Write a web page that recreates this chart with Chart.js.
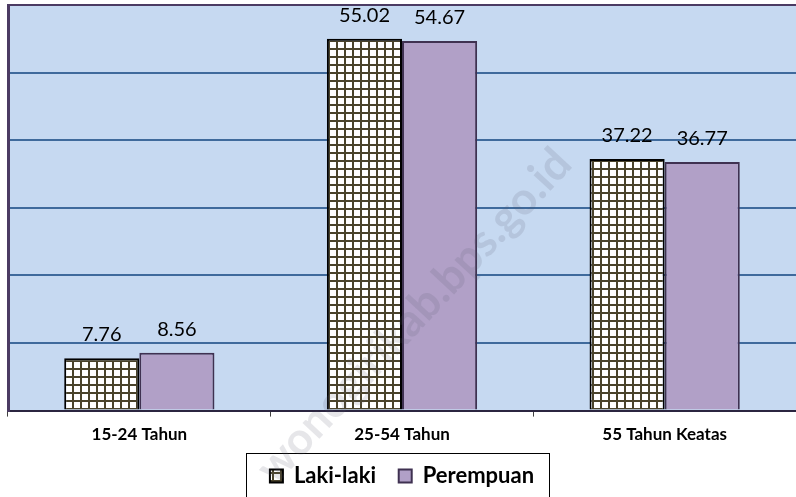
<!DOCTYPE html>
<html>
<head>
<meta charset="utf-8">
<script src="https://cdn.jsdelivr.net/npm/chart.js@4.4.0/dist/chart.umd.min.js"></script>
<style>
  html, body { margin: 0; padding: 0; background: #ffffff; }
  #wrap { width: 796px; height: 497px; position: relative; }
</style>
</head>
<body>
<div id="wrap"><canvas id="chart"></canvas></div>
<script>
// Data
const categories = ['15-24 Tahun', '25-54 Tahun', '55 Tahun Keatas'];
const lakiLaki = [7.76, 55.02, 37.22];
const perempuan = [8.56, 54.67, 36.77];
const yTicks = [0, 10, 20, 30, 40, 50, 60];

const FONT = 'Lato, "Open Sans", sans-serif';

// Checkered fill used for Laki-laki
function makeGridPattern() {
    const c = document.createElement('canvas');
    c.width = 8;
    c.height = 8;
    const g = c.getContext('2d');
    g.fillStyle = '#ffffff';
    g.fillRect(0, 0, 8, 8);
    g.fillStyle = '#4a432b';
    g.fillRect(0, 0, 2, 8);
    g.fillRect(0, 0, 8, 2);
    return g.createPattern(c, 'repeat');
}
const gridPattern = makeGridPattern();

// Plot background
const plotBackground = {
    id: 'plotBackground',
    beforeDraw(chart) {
        const { ctx, chartArea: a } = chart;
        ctx.save();
        ctx.fillStyle = '#c6d9f1';
        ctx.fillRect(a.left, a.top, a.right - a.left, a.bottom - a.top);
        ctx.restore();
    }
};

// Value labels above bars
const valueLabels = {
    id: 'valueLabels',
    afterDatasetsDraw(chart) {
        const ctx = chart.ctx;
        ctx.save();
        ctx.font = '20px ' + FONT;
        ctx.fillStyle = '#000000';
        ctx.textAlign = 'center';
        ctx.textBaseline = 'alphabetic';
        chart.data.datasets.forEach((ds, i) => {
            chart.getDatasetMeta(i).data.forEach((bar, j) => {
                ctx.fillText(ds.data[j].toFixed(2), bar.x, bar.y - 17);
            });
        });
        ctx.restore();
    }
};

// Frame round the legend
const legendFrame = {
    id: 'legendFrame',
    afterDraw(chart) {
        const lg = chart.legend;
        if (!lg || !lg.legendHitBoxes.length) return;
        const boxes = lg.legendHitBoxes;
        const left = boxes[0].left - 24;
        const right = boxes[boxes.length - 1].left + boxes[boxes.length - 1].width + 15;
        const top = 453;
        const ctx = chart.ctx;
        ctx.save();
        ctx.strokeStyle = '#000000';
        ctx.lineWidth = 1;
        ctx.strokeRect(Math.round(left) + 0.5, top + 0.5, Math.round(right - left), chart.height - top + 5);
        ctx.restore();
    }
};

// Faint site watermark
const watermark = {
    id: 'watermark',
    afterDraw(chart) {
        const ctx = chart.ctx;
        ctx.save();
        ctx.translate(414, 316);
        ctx.rotate(-47 * Math.PI / 180);
        ctx.font = 'bold 45px ' + FONT;
        ctx.fillStyle = 'rgba(90, 90, 110, 0.15)';
        ctx.textAlign = 'center';
        ctx.textBaseline = 'middle';
        ctx.fillText('wonogirikab.bps.go.id', 0, 0);
        ctx.restore();
    }
};

new Chart(document.getElementById('chart'), {
    type: 'bar',
    data: {
        labels: categories,
        datasets: [
            {
                label: 'Laki-laki',
                data: lakiLaki,
                backgroundColor: gridPattern,
                borderColor: '#000000',
                borderWidth: 2,
                borderSkipped: 'bottom'
            },
            {
                label: 'Perempuan',
                data: perempuan,
                backgroundColor: '#b1a0c7',
                borderColor: '#3f3151',
                borderWidth: 2,
                borderSkipped: 'bottom'
            }
        ]
    },
    options: {
        responsive: true,
        maintainAspectRatio: false,
        animation: false,
        categoryPercentage: 0.572,
        barPercentage: 1,
        layout: {
            padding: { left: 8, right: 0, top: 5, bottom: 0 }
        },
        scales: {
            x: {
                grid: {
                    offset: true,
                    drawOnChartArea: false,
                    drawTicks: true,
                    tickLength: 6,
                    color: '#404040',
                    lineWidth: 1
                },
                border: { display: true, color: '#2b2540', width: 2 },
                ticks: {
                    color: '#000000',
                    font: { family: FONT, size: 17, weight: 'bold' },
                    padding: 8,
                    maxRotation: 0
                }
            },
            y: {
                min: 0,
                max: 60,
                afterBuildTicks(scale) {
                    scale.ticks = yTicks.map(v => ({ value: v }));
                },
                ticks: { display: false },
                grid: {
                    drawTicks: false,
                    lineWidth: 2,
                    color: ctx => {
                        if (ctx.tick && ctx.tick.value === 60) return '#4b3b63';
                        if (ctx.tick && ctx.tick.value === 0) return 'rgba(0,0,0,0)';
                        return '#3f6a9c';
                    }
                },
                border: { display: true, color: '#4b3b63', width: 3 }
            }
        },
        plugins: {
            legend: {
                position: 'bottom',
                labels: {
                    color: '#000000',
                    font: { family: FONT, size: 22, weight: 'bold' },
                    boxWidth: 13,
                    boxHeight: 13,
                    padding: 12,
                    generateLabels(chart) {
                        return chart.data.datasets.map((ds, i) => ({
                            text: i === 0 ? ds.label + '  ' : ds.label,
                            fillStyle: ds.backgroundColor,
                            strokeStyle: ds.borderColor,
                            lineWidth: 2,
                            datasetIndex: i,
                            fontColor: '#000000'
                        }));
                    }
                }
            },
            tooltip: { enabled: false }
        }
    },
    plugins: [plotBackground, valueLabels, legendFrame, watermark]
});
</script>
</body>
</html>
